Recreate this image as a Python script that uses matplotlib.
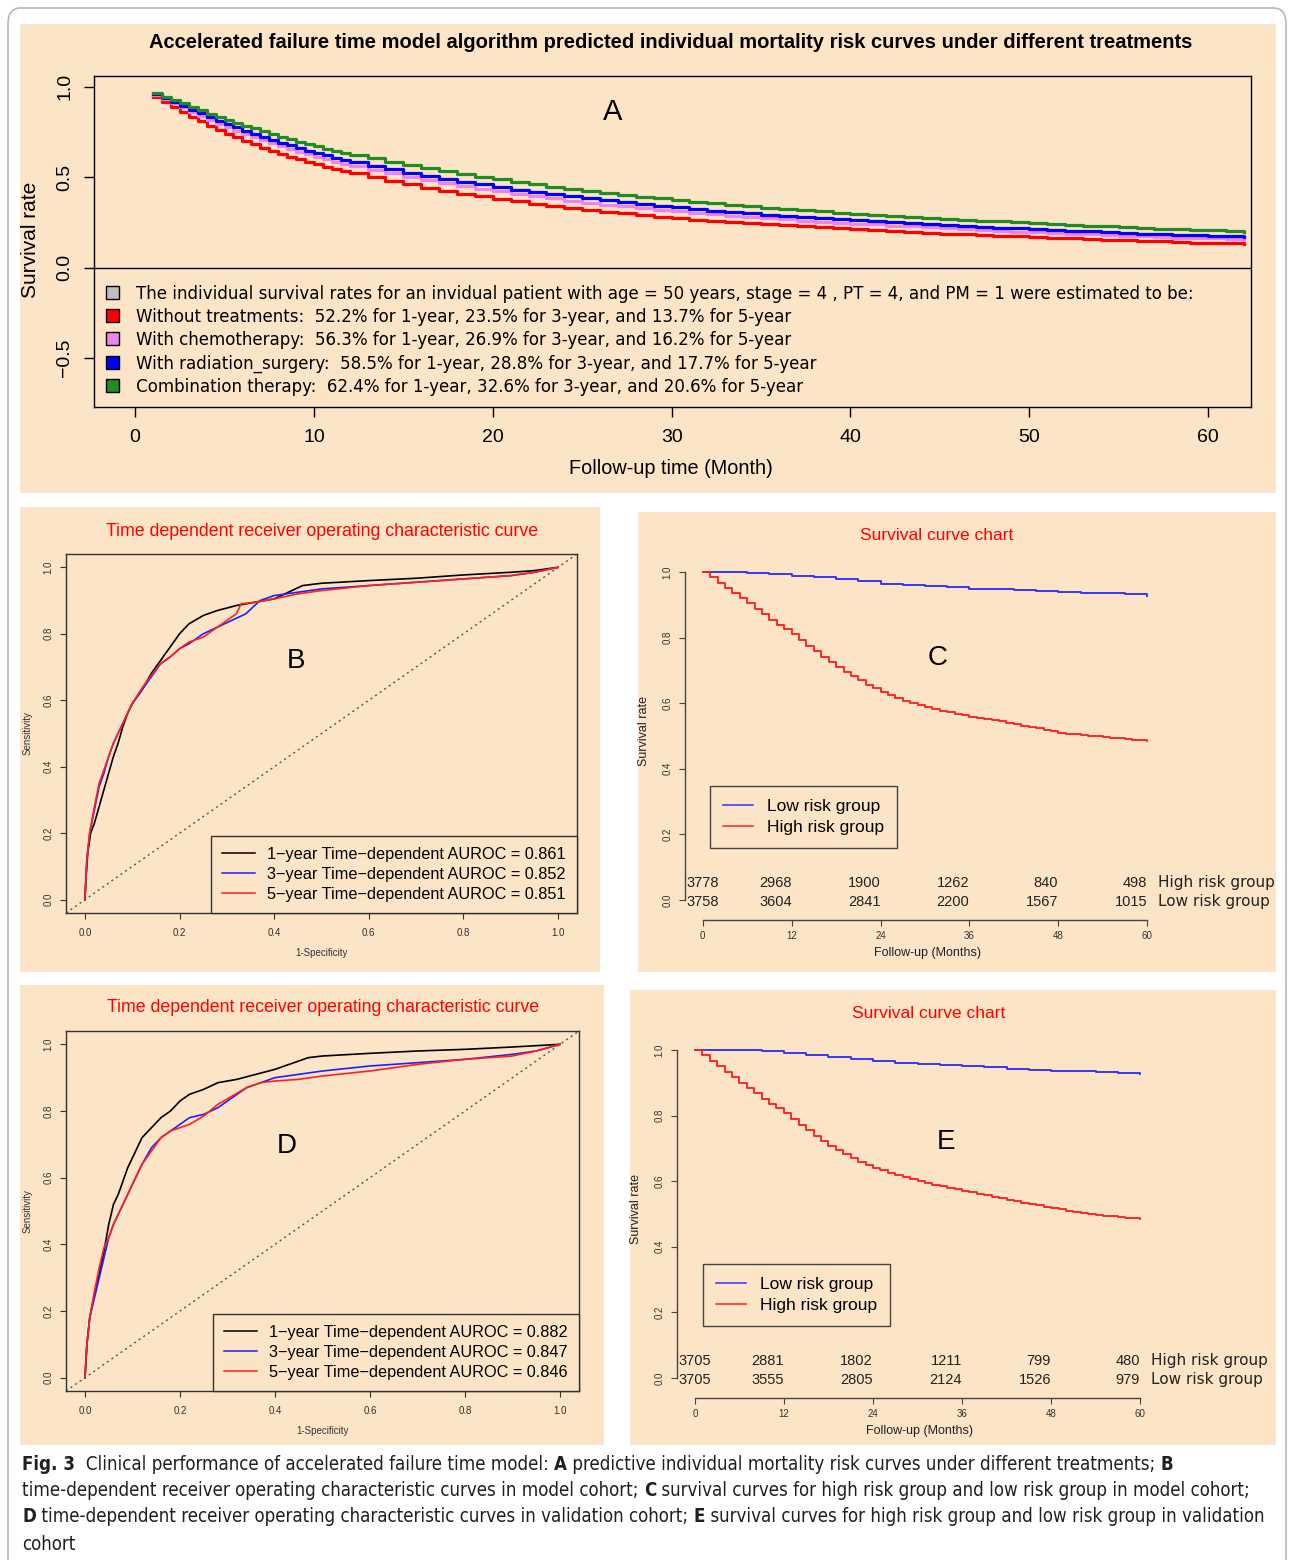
import numpy as np
import matplotlib
matplotlib.use('Agg')
import matplotlib.pyplot as plt
from matplotlib.patches import Patch, Rectangle, FancyBboxPatch
from matplotlib.lines import Line2D

# ---------------- data ----------------
# half-month steps during the first year, monthly afterwards
months_a = list(np.arange(1, 12.5, 0.5)) + list(range(13, 63))
surv_none = [0.945, 0.915, 0.887, 0.860, 0.834, 0.809, 0.785, 0.763, 0.741, 0.721, 0.701, 0.682,
             0.664, 0.647, 0.630, 0.614, 0.599, 0.585, 0.571, 0.558, 0.546, 0.534, 0.522,
             0.5005, 0.4803, 0.4612, 0.4432, 0.4262, 0.4102, 0.3951, 0.3808, 0.3673, 0.3545, 0.3424, 0.3310,
             0.3202, 0.3100, 0.3003, 0.2912, 0.2825, 0.2743, 0.2666, 0.2592, 0.2523, 0.2457, 0.2395, 0.235,
             0.2292, 0.2236, 0.2182, 0.2130, 0.2079, 0.2030, 0.1982, 0.1936, 0.1891, 0.1848, 0.1806, 0.1766,
             0.1727, 0.1689, 0.1652, 0.1616, 0.1581, 0.1547, 0.1514, 0.1482, 0.1451, 0.1421, 0.1392, 0.137,
             0.134, 0.131]
surv_chemo = [0.957, 0.933, 0.909, 0.886, 0.863, 0.840, 0.818, 0.797, 0.777, 0.758, 0.739, 0.721,
              0.704, 0.687, 0.671, 0.655, 0.640, 0.626, 0.612, 0.599, 0.587, 0.575, 0.563,
              0.542, 0.522, 0.503, 0.486, 0.469, 0.452, 0.437, 0.423, 0.409, 0.396, 0.383, 0.371,
              0.360, 0.349, 0.339, 0.330, 0.320, 0.311, 0.303, 0.295, 0.288, 0.281, 0.274, 0.269,
              0.261, 0.255, 0.250, 0.244, 0.239, 0.233, 0.228, 0.223, 0.218, 0.213, 0.209, 0.205,
              0.200, 0.196, 0.192, 0.188, 0.184, 0.181, 0.177, 0.174, 0.170, 0.167, 0.164, 0.162,
              0.158, 0.155]
surv_rad = [0.961, 0.939, 0.917, 0.895, 0.874, 0.853, 0.833, 0.813, 0.794, 0.776, 0.758, 0.741,
            0.724, 0.707, 0.691, 0.676, 0.661, 0.647, 0.634, 0.621, 0.609, 0.597, 0.585,
            0.564, 0.545, 0.526, 0.509, 0.492, 0.476, 0.461, 0.446, 0.432, 0.419, 0.406, 0.394,
            0.383, 0.372, 0.361, 0.351, 0.342, 0.333, 0.324, 0.316, 0.308, 0.301, 0.293, 0.288,
            0.280, 0.274, 0.268, 0.262, 0.257, 0.251, 0.246, 0.241, 0.236, 0.231, 0.226, 0.222,
            0.217, 0.213, 0.209, 0.205, 0.201, 0.197, 0.193, 0.189, 0.186, 0.182, 0.179, 0.177,
            0.173, 0.170]
surv_combo = [0.966, 0.946, 0.927, 0.908, 0.889, 0.870, 0.852, 0.835, 0.818, 0.802, 0.786, 0.770,
              0.754, 0.739, 0.724, 0.710, 0.697, 0.684, 0.671, 0.659, 0.647, 0.635, 0.624,
              0.604, 0.585, 0.568, 0.550, 0.534, 0.518, 0.503, 0.489, 0.475, 0.461, 0.449, 0.436,
              0.425, 0.414, 0.403, 0.393, 0.383, 0.373, 0.364, 0.356, 0.347, 0.339, 0.332, 0.326,
              0.318, 0.311, 0.305, 0.299, 0.293, 0.287, 0.282, 0.276, 0.271, 0.266, 0.261, 0.256,
              0.251, 0.246, 0.241, 0.237, 0.232, 0.228, 0.224, 0.220, 0.216, 0.212, 0.208, 0.206,
              0.201, 0.198]
legend_a = ['The individual survival rates for an invidual patient with age = 50 years, stage = 4 , PT = 4, and PM = 1 were estimated to be:',
            'Without treatments:  52.2% for 1-year, 23.5% for 3-year, and 13.7% for 5-year',
            'With chemotherapy:  56.3% for 1-year, 26.9% for 3-year, and 16.2% for 5-year',
            'With radiation_surgery:  58.5% for 1-year, 28.8% for 3-year, and 17.7% for 5-year',
            'Combination therapy:  62.4% for 1-year, 32.6% for 3-year, and 20.6% for 5-year']

# ROC, model cohort (B)
fpr_b1 = [0, 0.003, 0.006, 0.012, 0.02, 0.03, 0.04, 0.05, 0.06, 0.07, 0.08, 0.09, 0.10, 0.12, 0.14, 0.16,
          0.18, 0.20, 0.22, 0.25, 0.28, 0.32, 0.36, 0.40, 0.43, 0.46, 0.50, 0.60, 0.70, 0.80, 0.90, 0.95, 1.0]
tpr_b1 = [0, 0.08, 0.14, 0.20, 0.23, 0.28, 0.33, 0.38, 0.43, 0.47, 0.52, 0.56, 0.59, 0.63, 0.68, 0.72,
          0.76, 0.80, 0.83, 0.855, 0.87, 0.885, 0.895, 0.905, 0.925, 0.945, 0.952, 0.96, 0.967, 0.977, 0.985, 0.99, 1.0]
fpr_b3 = [0, 0.004, 0.01, 0.02, 0.03, 0.04, 0.05, 0.06, 0.08, 0.10, 0.12, 0.14, 0.16, 0.18, 0.20, 0.22,
          0.25, 0.28, 0.31, 0.34, 0.37, 0.40, 0.45, 0.50, 0.60, 0.70, 0.80, 0.90, 0.95, 1.0]
tpr_b3 = [0, 0.12, 0.20, 0.27, 0.34, 0.38, 0.43, 0.47, 0.53, 0.59, 0.63, 0.67, 0.71, 0.73, 0.755, 0.77,
          0.80, 0.82, 0.84, 0.86, 0.90, 0.915, 0.925, 0.935, 0.945, 0.955, 0.965, 0.975, 0.985, 1.0]
fpr_b5 = [0, 0.004, 0.01, 0.02, 0.03, 0.04, 0.05, 0.06, 0.08, 0.10, 0.12, 0.14, 0.16, 0.18, 0.20, 0.22,
          0.25, 0.26, 0.29, 0.32, 0.33, 0.36, 0.40, 0.45, 0.50, 0.60, 0.70, 0.80, 0.90, 0.95, 1.0]
tpr_b5 = [0, 0.12, 0.20, 0.28, 0.35, 0.39, 0.43, 0.47, 0.53, 0.59, 0.635, 0.675, 0.71, 0.73, 0.755, 0.775,
          0.79, 0.80, 0.83, 0.86, 0.89, 0.895, 0.905, 0.92, 0.93, 0.945, 0.955, 0.965, 0.975, 0.985, 1.0]
auc_b = ['0.861', '0.852', '0.851']

# ROC, validation cohort (D)
fpr_d1 = [0, 0.004, 0.01, 0.02, 0.03, 0.04, 0.05, 0.06, 0.07, 0.08, 0.09, 0.10, 0.11, 0.12, 0.14, 0.16,
          0.18, 0.20, 0.22, 0.25, 0.28, 0.32, 0.36, 0.40, 0.43, 0.47, 0.50, 0.60, 0.70, 0.80, 0.90, 1.0]
tpr_d1 = [0, 0.10, 0.18, 0.25, 0.31, 0.38, 0.46, 0.52, 0.55, 0.59, 0.63, 0.66, 0.69, 0.72, 0.75, 0.78,
          0.80, 0.83, 0.85, 0.865, 0.885, 0.895, 0.91, 0.925, 0.94, 0.96, 0.965, 0.973, 0.98, 0.985, 0.992, 1.0]
fpr_d3 = [0, 0.004, 0.01, 0.02, 0.03, 0.04, 0.05, 0.06, 0.08, 0.10, 0.12, 0.14, 0.16, 0.18, 0.20, 0.22,
          0.25, 0.28, 0.31, 0.34, 0.37, 0.40, 0.45, 0.50, 0.60, 0.70, 0.80, 0.90, 0.95, 1.0]
tpr_d3 = [0, 0.10, 0.18, 0.24, 0.30, 0.36, 0.42, 0.46, 0.52, 0.58, 0.64, 0.69, 0.72, 0.74, 0.76, 0.78,
          0.79, 0.81, 0.84, 0.87, 0.885, 0.90, 0.91, 0.92, 0.935, 0.945, 0.955, 0.97, 0.98, 1.0]
fpr_d5 = [0, 0.004, 0.01, 0.02, 0.03, 0.04, 0.05, 0.06, 0.08, 0.10, 0.12, 0.14, 0.16, 0.18, 0.20, 0.22,
          0.25, 0.28, 0.31, 0.34, 0.37, 0.40, 0.45, 0.50, 0.60, 0.70, 0.80, 0.90, 0.95, 1.0]
tpr_d5 = [0, 0.10, 0.18, 0.26, 0.33, 0.39, 0.42, 0.46, 0.52, 0.58, 0.64, 0.68, 0.72, 0.74, 0.75, 0.76,
          0.785, 0.82, 0.845, 0.87, 0.885, 0.89, 0.895, 0.905, 0.92, 0.94, 0.955, 0.965, 0.98, 1.0]
auc_d = ['0.882', '0.847', '0.846']

# Kaplan-Meier, model cohort (C)
km_months = list(range(0, 61))
km_c_high = [1.000, 0.985, 0.968, 0.952, 0.936, 0.920, 0.905, 0.888, 0.871, 0.855, 0.840, 0.825, 0.810,
             0.792, 0.775, 0.758, 0.742, 0.726, 0.710, 0.696, 0.683, 0.670, 0.657, 0.645, 0.633,
             0.624, 0.615, 0.607, 0.600, 0.594, 0.588, 0.582, 0.577, 0.572, 0.567, 0.563, 0.559,
             0.555, 0.552, 0.549, 0.545, 0.541, 0.537, 0.532, 0.528, 0.523, 0.519, 0.514, 0.510,
             0.507, 0.505, 0.503, 0.501, 0.499, 0.497, 0.495, 0.493, 0.491, 0.489, 0.487, 0.485]
km_low_months = list(range(0, 61, 3))
km_c_low = [1.0, 0.999, 0.997, 0.993, 0.988, 0.984, 0.979, 0.972, 0.963, 0.960, 0.957, 0.955, 0.950,
            0.948, 0.946, 0.942, 0.940, 0.937, 0.935, 0.933, 0.927]
risk_ticks = [0, 12, 24, 36, 48, 60]
risk_c_high = [3778, 2968, 1900, 1262, 840, 498]
risk_c_low = [3758, 3604, 2841, 2200, 1567, 1015]

# Kaplan-Meier, validation cohort (E)
km_e_high = [1.000, 0.985, 0.968, 0.951, 0.934, 0.917, 0.900, 0.884, 0.868, 0.852, 0.837, 0.822, 0.807,
             0.790, 0.773, 0.756, 0.739, 0.722, 0.706, 0.694, 0.682, 0.670, 0.659, 0.649, 0.640,
             0.633, 0.626, 0.619, 0.612, 0.606, 0.600, 0.595, 0.590, 0.585, 0.580, 0.575, 0.571,
             0.566, 0.561, 0.557, 0.552, 0.548, 0.543, 0.539, 0.535, 0.530, 0.526, 0.522, 0.518,
             0.514, 0.510, 0.507, 0.504, 0.500, 0.497, 0.495, 0.493, 0.491, 0.489, 0.487, 0.485]
km_e_low = [1.0, 1.0, 0.999, 0.996, 0.990, 0.985, 0.979, 0.973, 0.968, 0.962, 0.957, 0.954, 0.951,
            0.947, 0.943, 0.940, 0.937, 0.935, 0.932, 0.930, 0.926]
risk_e_high = [3705, 2881, 1802, 1211, 799, 480]
risk_e_low = [3705, 3555, 2805, 2124, 1526, 979]

# ---------------- style ----------------
W, H = 1290, 1560
BG = '#FCE4C6'
ARIAL = ['Liberation Sans', 'DejaVu Sans']
COND = {'family': 'DejaVu Sans', 'stretch': 'condensed'}
plt.rcParams['font.family'] = ARIAL
plt.rcParams['axes.linewidth'] = 1.0


def box(l, t, r, b):
    return [l / W, 1 - b / H, (r - l) / W, (b - t) / H]


def fx(x):
    return x / W


def fy(y):
    return 1 - y / H


fig = plt.figure(figsize=(W / 100, H / 100), dpi=100)
fig.patch.set_facecolor('white')

fig.patches.append(FancyBboxPatch((fx(8), fy(1590)), fx(1278), (1582) / H,
                                  boxstyle='round,pad=0,rounding_size=0.01',
                                  transform=fig.transFigure, facecolor='none',
                                  edgecolor='#b8b8b8', lw=1.2, zorder=-10))
for l, t, r, b in [(20, 24, 1276, 493), (20, 507, 600, 972), (638, 512, 1276, 972),
                   (20, 985, 604, 1445), (630, 990, 1276, 1445)]:
    fig.patches.append(Rectangle((l / W, 1 - b / H), (r - l) / W, (b - t) / H,
                                 transform=fig.transFigure, facecolor=BG,
                                 edgecolor='none', zorder=-10))

# ---------------- panel A ----------------
axA = fig.add_axes(box(94, 76, 1251, 407))
axA.set_facecolor(BG)
colors_a = ['#FF0000', '#EE82EE', '#0000FF', '#228B22']
for vals, col in zip([surv_none, surv_chemo, surv_rad, surv_combo], colors_a):
    axA.step(months_a, vals, where='post', color=col, lw=2.3)
axA.axhline(0, color='black', lw=1)
axA.set_xlim(-2.3, 62.4)
axA.set_ylim(-0.77, 1.06)
axA.set_xticks(range(0, 61, 10))
axA.set_yticks([-0.5, 0, 0.5, 1.0])
axA.set_yticklabels(['\u22120.5', '0.0', '0.5', '1.0'], rotation=90, va='center')
axA.tick_params(labelsize=14, length=7, width=1)
axA.tick_params(axis='y', pad=8)
axA.tick_params(axis='x', pad=9)
axA.text(0.448, 0.89, 'A', transform=axA.transAxes, fontsize=21, ha='center', va='center')
handles = [Patch(facecolor=c, edgecolor='black', lw=1)
           for c in ['#BEBEBE', '#FF0000', '#EE82EE', '#0000FF', '#228B22']]
axA.legend(handles, legend_a, loc='upper left', bbox_to_anchor=(fx(106), fy(285)),
           bbox_transform=fig.transFigure, frameon=False,
           prop=dict(COND, size=13.3),
           handlelength=0.7, handleheight=0.7, handletextpad=0.9, labelspacing=0.28,
           borderpad=0, borderaxespad=0)
fig.text(fx(671), fy(42), 'Accelerated failure time model algorithm predicted individual mortality risk curves under different treatments',
         ha='center', va='center', fontsize=14.5, weight='bold')
fig.text(fx(31), fy(240), 'Survival rate', rotation=90, ha='center', va='center', fontsize=15)
fig.text(fx(671), fy(468), 'Follow-up time (Month)', ha='center', va='center', fontsize=14.3)


# ---------------- ROC panels ----------------
def draw_roc(rect, title_y, curves, aucs, letter, letter_pos):
    ax = fig.add_axes(box(*rect))
    ax.set_facecolor(BG)
    ax.axline((0, 0), slope=1, color='#555555', ls=(0, (1.5, 2.5)), lw=1)
    for (fpr, tpr), col in zip(curves, ['black', '#2020FF', '#FF2020']):
        ax.plot(fpr, tpr, color=col, lw=1.2)
    ax.set_xlim(-0.04, 1.04)
    ax.set_ylim(-0.04, 1.04)
    ticks = [0, 0.2, 0.4, 0.6, 0.8, 1.0]
    ax.set_xticks(ticks)
    ax.set_yticks(ticks)
    ax.set_xticklabels(['%.1f' % t for t in ticks])
    ax.set_yticklabels(['%.1f' % t for t in ticks], rotation=90, va='center')
    ax.tick_params(labelsize=7, length=4, width=0.8, colors='#333333', labelcolor='#333333')
    ax.tick_params(axis='x', pad=7)
    ax.tick_params(axis='y', pad=5)
    for s in ax.spines.values():
        s.set_color('#333333')
    ax.text(letter_pos[0], letter_pos[1], letter, transform=ax.transAxes, fontsize=20,
            ha='center', va='center')
    labels = ['%d\u2212year Time\u2212dependent AUROC = %s' % (y, a) for y, a in zip([1, 3, 5], aucs)]
    hl = [Line2D([], [], color=c, lw=1.1) for c in ['black', '#2020FF', '#FF2020']]
    leg = ax.legend(hl, labels, loc='lower right', borderaxespad=0, fancybox=False,
                    fontsize=11.7, handlelength=2.0, handletextpad=0.75, borderpad=0.7,
                    labelspacing=0.3, framealpha=1, facecolor=BG, edgecolor='#333333')
    leg.get_frame().set_linewidth(1.0)
    cx = (rect[0] + rect[2]) / 2
    fig.text(fx(cx + 1), fy(title_y), 'Time dependent receiver operating characteristic curve',
             color='#FF0000', ha='center', va='center', fontsize=12.8)
    fig.text(fx(28), fy((rect[1] + rect[3]) / 2), 'Sensitivity', rotation=90,
             ha='center', va='center', fontsize=7, color='#333333')
    fig.text(fx(cx), fy(rect[3] + 40), '1-Specificity', ha='center', va='center',
             fontsize=7, color='#333333')
    return ax


draw_roc((66, 554, 577, 913), 531, [(fpr_b1, tpr_b1), (fpr_b3, tpr_b3), (fpr_b5, tpr_b5)],
         auc_b, 'B', (0.45, 0.703))
draw_roc((66, 1031, 579, 1391), 1008, [(fpr_d1, tpr_d1), (fpr_d3, tpr_d3), (fpr_d5, tpr_d5)],
         auc_d, 'D', (0.43, 0.68))


# ---------------- KM panels ----------------
def draw_km(rect, title_xy, high, low, r_high, r_low, letter, letter_pos, leg_xy, ylab_x, xlab_y):
    ax = fig.add_axes(box(*rect))
    ax.set_facecolor('none')
    ax.step(km_low_months, low, where='post', color='#3030FF', lw=1.35)
    ax.step(km_months, high, where='post', color='#FF2020', lw=1.35)
    ax.set_xlim(-2.4, 62.4)
    ax.set_ylim(-0.04, 1.04)
    ax.spines['top'].set_visible(False)
    ax.spines['right'].set_visible(False)
    ax.spines['left'].set_bounds(0, 1)
    ax.spines['bottom'].set_bounds(0, 60)
    ax.spines['bottom'].set_position(('outward', 5))
    for s in ax.spines.values():
        s.set_color('#444444')
    ax.set_xticks(risk_ticks)
    yt = [0, 0.2, 0.4, 0.6, 0.8, 1.0]
    ax.set_yticks(yt)
    ax.set_yticklabels(['%.1f' % t for t in yt], rotation=90, va='center')
    ax.tick_params(labelsize=7, length=4, width=0.8, colors='#444444', labelcolor='#333333')
    ax.tick_params(axis='x', pad=4)
    ax.tick_params(axis='y', pad=5)
    for i, (m, hv, lv) in enumerate(zip(risk_ticks, r_high, r_low)):
        ha = 'center' if i == 0 else 'right'
        ax.text(m, 0.052, str(hv), ha=ha, va='center', fontsize=10.5, color='#222222')
        ax.text(m, -0.006, str(lv), ha=ha, va='center', fontsize=10.5, color='#222222')
    ax.text(61.5, 0.052, 'High risk group', ha='left', va='center', fontsize=11,
            family='DejaVu Sans', color='#222222', clip_on=False)
    ax.text(61.5, -0.006, 'Low risk group', ha='left', va='center', fontsize=11,
            family='DejaVu Sans', color='#222222', clip_on=False)
    ax.text(letter_pos[0], letter_pos[1], letter, transform=ax.transAxes, fontsize=20,
            ha='center', va='center')
    hl = [Line2D([], [], color='#3030FF', lw=1.1), Line2D([], [], color='#FF2020', lw=1.1)]
    leg = ax.legend(hl, ['Low risk group', 'High risk group'], loc='upper left',
                    bbox_to_anchor=(fx(leg_xy[0]), fy(leg_xy[1])), bbox_transform=fig.transFigure,
                    borderaxespad=0, fancybox=False, fontsize=12.5, handlelength=1.75,
                    handletextpad=0.8, borderpad=0.75, labelspacing=0.35, framealpha=1,
                    facecolor=BG, edgecolor='#444444')
    leg.get_frame().set_linewidth(1.0)
    fig.text(fx(title_xy[0]), fy(title_xy[1]), 'Survival curve chart', color='#FF0000',
             ha='center', va='center', fontsize=12.5)
    fig.text(fx(ylab_x), fy((rect[1] + rect[3]) / 2 - 5), 'Survival rate', rotation=90,
             ha='center', va='center', fontsize=9, color='#222222')
    fig.text(fx((rect[0] + rect[2]) / 2 + 2), fy(xlab_y), 'Follow-up (Months)', ha='center',
             va='center', fontsize=9, color='#222222')
    return ax


draw_km((685, 559, 1165, 913), (937, 536), km_c_high, km_c_low, risk_c_high, risk_c_low,
        'C', (0.526, 0.719), (710, 786), 644, 953)
draw_km((677, 1037, 1158, 1391), (929, 1014), km_e_high, km_e_low, risk_e_high, risk_e_low,
        'E', (0.56, 0.703), (703, 1264), 636, 1431)

# ---------------- caption ----------------
renderer = fig.canvas.get_renderer()


def caption_line(y, parts):
    x = fx(22)
    for txt, bold in parts:
        t = fig.text(x, fy(y), txt, ha='left', va='center', fontsize=13.4,
                     weight='bold' if bold else 'normal', color='#231F20', **COND)
        x += t.get_window_extent(renderer=renderer).width / fig.bbox.width


caption_line(1464, [('Fig. 3', True), ('  Clinical performance of accelerated failure time model: ', False),
                    ('A', True), (' predictive individual mortality risk curves under different treatments; ', False),
                    ('B', True)])
caption_line(1491, [('time-dependent receiver operating characteristic curves in model cohort; ', False),
                    ('C', True), (' survival curves for high risk group and low risk group in model cohort;', False)])
caption_line(1517, [('D', True), (' time-dependent receiver operating characteristic curves in validation cohort; ', False),
                    ('E', True), (' survival curves for high risk group and low risk group in validation', False)])
caption_line(1544, [('cohort', False)])

fig.savefig('out.png', dpi=100, facecolor='white')
